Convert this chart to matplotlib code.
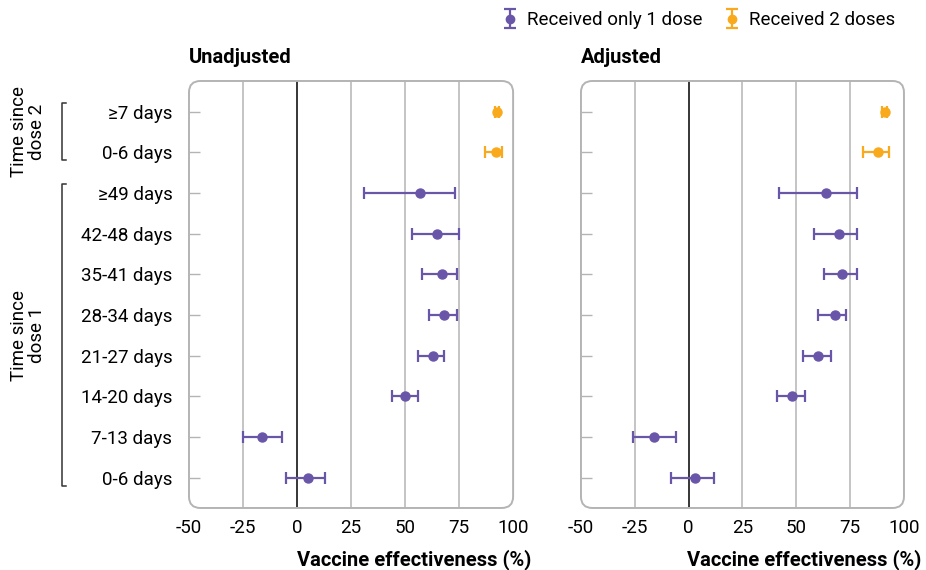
import numpy as np
import matplotlib
matplotlib.use("Agg")
import matplotlib.pyplot as plt
from matplotlib.patches import FancyBboxPatch
from matplotlib.transforms import blended_transform_factory

plt.rcParams['font.family'] = ['Roboto', 'DejaVu Sans']

# data
labels = ["≥7 days", "0-6 days", "≥49 days", "42-48 days", "35-41 days",
          "28-34 days", "21-27 days", "14-20 days", "7-13 days", "0-6 days"]
doses = [2, 2, 1, 1, 1, 1, 1, 1, 1, 1]

unadj_ve = [92.5, 92, 57, 65, 67, 68, 63, 50, -16, 5]
unadj_lo = [91.5, 87, 31, 53, 58, 61, 56, 44, -25, -5]
unadj_hi = [93.5, 95, 73, 75, 74, 74, 68, 56, -7, 13]

adj_ve = [91, 88, 64, 70, 71, 68, 60, 48, -16, 3]
adj_lo = [90, 81, 42, 58, 63, 60, 53, 41, -26, -8]
adj_hi = [92, 93, 78, 78, 78, 73, 66, 54, -6, 12]

xticks = [-50, -25, 0, 25, 50, 75, 100]

purple = "#6A56A8"
orange = "#F9AA1C"
grey = "#b4b4b4"

fig = plt.figure(figsize=(9.26, 5.7), dpi=100)
ax1 = fig.add_axes([0.2041, 0.1088, 0.35, 0.7491])
ax2 = fig.add_axes([0.6274, 0.1088, 0.3488, 0.7491])


def draw_panel(ax, ve, lo, hi, title):
    ve = np.array(ve)
    lo = np.array(lo)
    hi = np.array(hi)
    y = np.arange(len(ve))
    for d, c in [(1, purple), (2, orange)]:
        m = np.array(doses) == d
        ax.errorbar(ve[m], y[m], xerr=[ve[m] - lo[m], hi[m] - ve[m]],
                    fmt="o", color=c, ms=6.5, elinewidth=1.6, capsize=4,
                    capthick=1.6, zorder=4)
    for x in [-25, 25, 50, 75]:
        ax.axvline(x, color=grey, lw=1.1, zorder=1)
    ax.axvline(0, color="black", lw=1.1, zorder=2)
    ax.set_xlim(-50, 100)
    ax.set_ylim(9.74, -0.75)
    ax.set_xticks(xticks)
    ax.set_xticklabels([str(t) for t in xticks], fontsize=13.5)
    ax.tick_params(axis="x", length=0, pad=8)
    ax.set_yticks(range(len(labels)))
    ax.tick_params(axis="y", direction="in", length=8, width=1, color=grey, pad=12)
    for s in ax.spines.values():
        s.set_visible(False)
    w, h = ax.bbox.width, ax.bbox.height
    box = FancyBboxPatch((0, 0), 1, 1, boxstyle="round,pad=0,rounding_size=0.035",
                         mutation_aspect=w / h, transform=ax.transAxes,
                         facecolor="none", edgecolor=grey, lw=1.4,
                         clip_on=False, zorder=3)
    ax.add_patch(box)
    ax.set_title(title, loc="left", fontsize=14.5, fontweight="bold", pad=13)
    ax.text(1.055, -0.12, "Vaccine effectiveness (%)", transform=ax.transAxes,
            ha="right", va="center", fontsize=14.5, fontweight="bold")


draw_panel(ax1, unadj_ve, unadj_lo, unadj_hi, "Unadjusted")
draw_panel(ax2, adj_ve, adj_lo, adj_hi, "Adjusted")
ax1.set_yticklabels(labels, fontsize=13.5)
ax2.set_yticklabels([])

# brackets
tr = blended_transform_factory(ax1.transAxes, ax1.transData)
for top, bot in [(0, 1), (2, 9)]:
    ax1.plot([-0.380, -0.392, -0.392, -0.380], [top - 0.22, top - 0.22, bot + 0.2, bot + 0.2],
             color="#333333", lw=1.1, transform=tr, clip_on=False)
ax1.text(-0.497, 0.5, "Time since\ndose 2", rotation=90, transform=tr,
         ha="center", va="center", fontsize=13.5, linespacing=1.0)
ax1.text(-0.497, 5.5, "Time since\ndose 1", rotation=90, transform=tr,
         ha="center", va="center", fontsize=13.5, linespacing=1.0)

# legend
h1 = ax1.errorbar([np.nan], [np.nan], yerr=[1], fmt="o", color=purple, ms=6,
                  elinewidth=1.6, capsize=4, capthick=1.6)
h2 = ax1.errorbar([np.nan], [np.nan], yerr=[1], fmt="o", color=orange, ms=6,
                  elinewidth=1.6, capsize=4, capthick=1.6)
fig.legend([h1, h2], ["Received only 1 dose", "Received 2 doses"], ncol=2,
           loc="upper right", bbox_to_anchor=(0.985, 1.01), frameon=False,
           fontsize=13.5, handlelength=0.8, handletextpad=0.5, columnspacing=1.2)

fig.savefig("out.png", dpi=100)
